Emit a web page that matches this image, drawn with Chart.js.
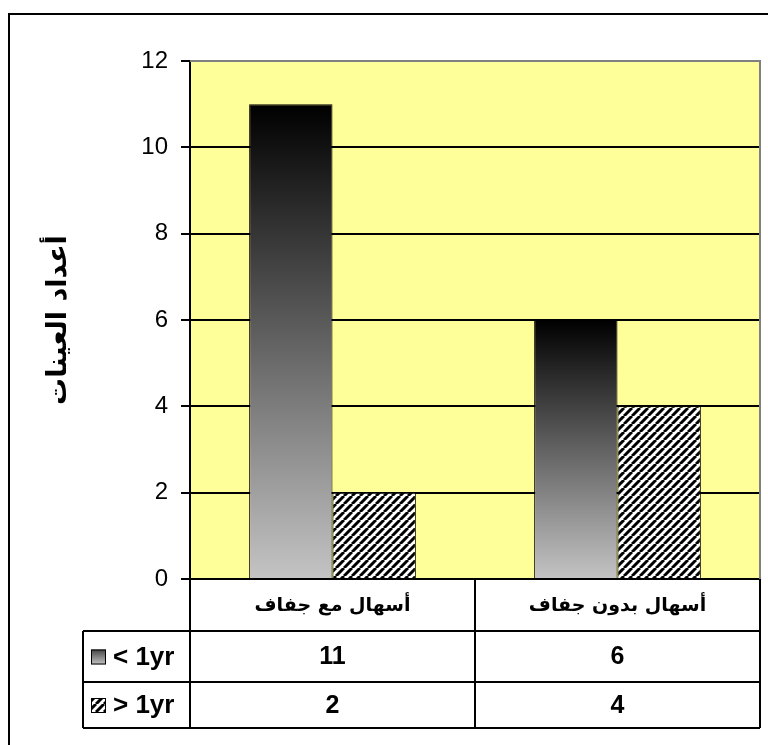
<!DOCTYPE html>
<html>
<head>
<meta charset="utf-8">
<script src="https://cdn.jsdelivr.net/npm/chart.js@4/dist/chart.umd.min.js"></script>
<style>
  html, body { margin: 0; padding: 0; background: #fff; }
  #wrap { width: 768px; height: 745px; position: relative; }
</style>
</head>
<body>
<div id="wrap"><canvas id="c" width="768" height="745"></canvas></div>
<script>
// Sample counts by diarrhoea type and age group
const categories = ['أسهال مع جفاف', 'أسهال بدون جفاف'];
const seriesNames = ['< 1yr', '> 1yr'];
const underOneYear = [11, 6];
const overOneYear = [2, 4];
const yTicks = [0, 2, 4, 6, 8, 10, 12];
const yTitle = 'أعداد العينات';

const LATIN = '"Liberation Sans", Arial, sans-serif';
const ARABIC = '"DejaVu Sans", sans-serif';

// Data-table row heights below the plot
const ROWS = [52, 51, 46];
const LEGEND_COL_LEFT = 83;

function hatchPattern(ctx) {
  const c = document.createElement('canvas');
  c.width = 8; c.height = 8;
  const g = c.getContext('2d');
  g.fillStyle = '#fff';
  g.fillRect(0, 0, 8, 8);
  g.strokeStyle = '#000';
  g.lineWidth = 3;
  g.beginPath();
  for (const k of [-8, 0, 8]) { g.moveTo(k, 8); g.lineTo(k + 8, 0); }
  g.stroke();
  return ctx.createPattern(c, 'repeat');
}

function barGradient(ctx) {
  const chart = ctx.chart;
  if (!chart.chartArea || ctx.type !== 'data') return '#808080';
  const y = chart.scales.y;
  const top = y.getPixelForValue(ctx.raw);
  const base = y.getPixelForValue(0);
  const g = chart.ctx.createLinearGradient(0, top, 0, base);
  g.addColorStop(0, '#000000');
  g.addColorStop(1, '#c4c4c4');
  return g;
}

const canvas = document.getElementById('c');
const hatch = hatchPattern(canvas.getContext('2d'));

const frameAndTable = {
  id: 'frameAndTable',
  beforeDraw(chart) {
    const { ctx, chartArea: a } = chart;
    ctx.save();
    ctx.fillStyle = '#fff';
    ctx.fillRect(0, 0, chart.width, chart.height);
    ctx.fillStyle = '#FFFF99';
    ctx.fillRect(a.left, a.top, a.right - a.left, a.bottom - a.top);
    ctx.restore();
  },
  afterDraw(chart) {
    const { ctx, chartArea: a } = chart;
    const x = chart.scales.x;
    ctx.save();

    // plot area border (top / right)
    ctx.strokeStyle = '#808080';
    ctx.lineWidth = 2;
    ctx.beginPath();
    ctx.moveTo(a.left, a.top);
    ctx.lineTo(a.right, a.top);
    ctx.lineTo(a.right, a.bottom);
    ctx.stroke();

    // outer chart frame
    ctx.strokeStyle = '#000';
    ctx.lineWidth = 2;
    ctx.beginPath();
    ctx.moveTo(9, chart.height + 2);
    ctx.lineTo(9, 14);
    ctx.lineTo(chart.width + 2, 14);
    ctx.stroke();

    // data table
    const half = (x.getPixelForValue(1) - x.getPixelForValue(0)) / 2;
    const edges = categories.map((_, i) => x.getPixelForValue(i) - half);
    edges.push(x.getPixelForValue(categories.length - 1) + half);
    const y0 = a.bottom;
    const y1 = y0 + ROWS[0];
    const y2 = y1 + ROWS[1];
    const y3 = y2 + ROWS[2];

    ctx.strokeStyle = '#000';
    ctx.lineWidth = 2;
    ctx.beginPath();
    for (const ex of edges) { ctx.moveTo(ex, y0); ctx.lineTo(ex, y3); }
    ctx.moveTo(LEGEND_COL_LEFT, y1); ctx.lineTo(LEGEND_COL_LEFT, y3);
    for (const yy of [y1, y2, y3]) { ctx.moveTo(LEGEND_COL_LEFT, yy); ctx.lineTo(edges[edges.length - 1], yy); }
    ctx.stroke();

    ctx.fillStyle = '#000';
    ctx.textAlign = 'center';
    ctx.textBaseline = 'middle';
    ctx.font = 'bold 19px ' + ARABIC;
    categories.forEach((c, i) => ctx.fillText(c, x.getPixelForValue(i), (y0 + y1) / 2 + 1));

    ctx.font = 'bold 25px ' + LATIN;
    const rows = [underOneYear, overOneYear];
    const rowMid = [(y1 + y2) / 2, (y2 + y3) / 2];
    rows.forEach((vals, r) => vals.forEach((v, i) =>
      ctx.fillText(String(v), x.getPixelForValue(i), rowMid[r] + 1)));

    // legend keys and series names
    ctx.textAlign = 'left';
    seriesNames.forEach((name, r) => {
      const ky = rowMid[r] - 7;
      if (r === 0) {
        const g = ctx.createLinearGradient(0, ky, 0, ky + 15);
        g.addColorStop(0, '#444');
        g.addColorStop(1, '#c4c4c4');
        ctx.fillStyle = g;
      } else {
        ctx.fillStyle = hatch;
      }
      ctx.fillRect(91, ky, 15, 15);
      ctx.lineWidth = 1;
      ctx.strokeStyle = '#000';
      ctx.strokeRect(91.5, ky + 0.5, 14, 14);
      ctx.fillStyle = '#000';
      ctx.font = 'bold 26px ' + LATIN;
      ctx.fillText(name, 113, rowMid[r] + 1);
    });
    ctx.restore();
  }
};

new Chart(canvas, {
  type: 'bar',
  data: {
    labels: categories,
    datasets: [
      {
        label: seriesNames[0],
        data: underOneYear,
        backgroundColor: barGradient,
        borderColor: '#000',
        borderWidth: 1
      },
      {
        label: seriesNames[1],
        data: overOneYear,
        backgroundColor: hatch,
        borderColor: '#000',
        borderWidth: 1
      }
    ]
  },
  options: {
    responsive: false,
    devicePixelRatio: 1,
    animation: false,
    events: [],
    layout: { padding: { top: 61, right: 8, bottom: 0, left: 0 } },
    datasets: { bar: { categoryPercentage: 0.585, barPercentage: 1.0 } },
    plugins: { legend: { display: false }, tooltip: { enabled: false } },
    scales: {
      x: {
        type: 'category',
        grid: { display: false },
        border: { display: false },
        ticks: { display: false },
        afterFit(scale) { scale.height = 166; }
      },
      y: {
        min: yTicks[0],
        max: yTicks[yTicks.length - 1],
        afterBuildTicks(scale) { scale.ticks = yTicks.map(v => ({ value: v })); },
        ticks: {
          color: '#000',
          padding: 13,
          font: { family: LATIN, size: 24 }
        },
        grid: {
          color: c => (c.tick && c.tick.value === yTicks[yTicks.length - 1]) ? '#808080' : '#000',
          lineWidth: 2,
          tickColor: '#000',
          tickLength: 9,
          drawTicks: true
        },
        border: { display: true, color: '#000', width: 2 },
        title: {
          display: true,
          text: yTitle,
          color: '#000',
          font: { family: ARABIC, size: 27, weight: 'bold' },
          padding: { top: 43, bottom: 0 }
        },
        afterFit(scale) { scale.width = 190; }
      }
    }
  },
  plugins: [frameAndTable]
});
</script>
</body>
</html>
